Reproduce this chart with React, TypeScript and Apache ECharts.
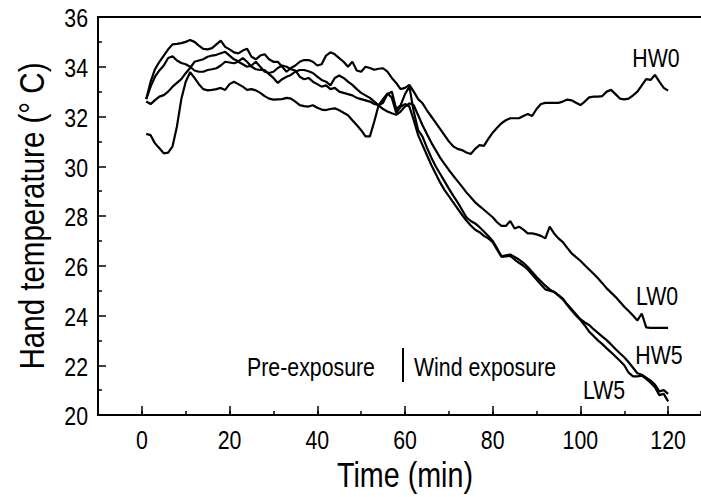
import React, { useEffect, useRef } from "react";
import * as echarts from "echarts";

const minutes = [
  1, 2, 3, 4, 5, 6, 7, 8, 9, 10, 11, 12, 13, 14, 15, 16, 17, 18, 19, 20,
  21, 22, 23, 24, 25, 26, 27, 28, 29, 30, 31, 32, 33, 34, 35, 36, 37, 38, 39, 40,
  41, 42, 43, 44, 45, 46, 47, 48, 49, 50, 51, 52, 53, 54, 55, 56, 57, 58, 59, 60,
  61, 62, 63, 64, 65, 66, 67, 68, 69, 70, 71, 72, 73, 74, 75, 76, 77, 78, 79, 80,
  81, 82, 83, 84, 85, 86, 87, 88, 89, 90, 91, 92, 93, 94, 95, 96, 97, 98, 99, 100,
  101, 102, 103, 104, 105, 106, 107, 108, 109, 110, 111, 112, 113, 114, 115, 116, 117, 118, 119, 120,
];

const hw0 = [
  32.7, 33.4, 33.9, 34.2, 34.45, 34.7, 34.9, 34.92, 34.95, 35.0, 35.08, 35.0, 34.85, 34.72, 34.7, 34.75, 34.9, 35.05, 34.8, 34.7,
  34.58, 34.54, 34.65, 34.72, 34.4, 34.3, 34.45, 34.5, 34.3, 34.2, 34.2, 34.0, 33.8, 33.95, 34.05, 34.2, 34.27, 34.27, 34.2, 34.05,
  34.1, 34.45, 34.58, 34.5, 34.35, 34.2, 34.0, 34.2, 33.85, 33.8, 34.0, 33.95, 33.88, 33.92, 33.94, 33.8, 33.55, 33.35, 33.1, 33.15,
  33.27, 33.0, 32.7, 32.53, 32.25, 32.0, 31.75, 31.5, 31.25, 31.0, 30.8, 30.7, 30.65, 30.55, 30.49, 30.7, 30.85, 30.82, 31.1, 31.35,
  31.55, 31.73, 31.85, 31.93, 31.93, 31.93, 32.02, 32.1, 32.02, 32.3, 32.5, 32.55, 32.55, 32.55, 32.55, 32.6, 32.68, 32.65, 32.55, 32.46,
  32.6, 32.77, 32.8, 32.8, 32.82, 33.0, 33.07, 32.9, 32.72, 32.69, 32.72, 32.85, 33.0, 33.25, 33.5, 33.47, 33.67, 33.4, 33.15, 33.04,
];

const lw0 = [
  32.6, 32.5, 32.66, 32.8, 32.86, 33.0, 33.2, 33.35, 33.5, 33.74, 33.95, 34.2, 34.25, 34.3, 34.4, 34.45, 34.48, 34.54, 34.6, 34.45,
  34.3, 34.22, 34.35, 34.2, 34.0, 33.9, 33.87, 33.87, 33.7, 33.55, 33.35, 33.5, 33.6, 33.67, 33.8, 33.87, 33.87, 33.82, 33.75, 33.6,
  33.47, 33.4, 33.25, 33.55, 33.65, 33.55, 33.4, 33.27, 33.1, 32.95, 32.85, 32.75, 32.6, 32.45, 32.3, 32.2, 32.13, 32.07, 32.2, 32.4,
  32.53, 32.45, 32.05, 31.65, 31.3, 30.95, 30.65, 30.35, 30.1, 29.85, 29.62, 29.4, 29.18, 28.95, 28.75, 28.55, 28.4, 28.25, 28.1, 27.95,
  27.75, 27.6, 27.6, 27.8, 27.5, 27.57, 27.45, 27.3, 27.3, 27.26, 27.2, 27.1, 27.57, 27.3, 27.1, 26.95, 26.72, 26.5, 26.35, 26.2,
  26.02, 25.85, 25.68, 25.5, 25.3, 25.09, 24.92, 24.75, 24.55, 24.35, 24.18, 24.0, 23.8, 24.08, 23.52, 23.5, 23.5, 23.5, 23.5, 23.5,
];

const hw5 = [
  32.7, 33.2, 33.6, 33.85, 34.05, 34.35, 34.42, 34.25, 34.15, 34.1, 34.0, 33.85, 33.8, 33.8, 33.87, 33.9, 33.94, 34.05, 34.2, 34.17,
  34.14, 34.2, 34.1, 34.0, 34.05, 34.2, 34.0, 33.8, 33.75, 33.8, 33.95, 34.05, 34.0, 33.9, 33.85, 33.6, 33.5, 33.55, 33.4, 33.3,
  33.2, 33.25, 33.1, 33.15, 33.0, 32.95, 32.9, 32.85, 32.75, 32.7, 32.65, 32.6, 32.5, 32.45, 32.55, 32.9, 33.0, 32.3, 32.45, 32.9,
  33.2, 32.2, 31.45, 31.19, 30.75, 30.35, 30.0, 29.7, 29.4, 29.1, 28.82, 28.55, 28.25, 27.95, 27.8, 27.7, 27.55, 27.38, 27.2, 27.0,
  26.7, 26.38, 26.42, 26.45, 26.35, 26.25, 26.12, 25.95, 25.75, 25.55, 25.38, 25.2, 25.05, 24.95, 24.82, 24.68, 24.45, 24.25, 24.05, 23.85,
  23.72, 23.62, 23.45, 23.3, 23.15, 23.01, 22.83, 22.65, 22.48, 22.32, 22.12, 21.9, 21.68, 21.62, 21.5, 21.38, 21.22, 20.95, 21.0, 20.85,
];

const lw5 = [
  31.3, 31.25, 30.92, 30.72, 30.52, 30.55, 30.8, 31.6, 32.7, 33.4, 33.78, 33.55, 33.3, 33.1, 33.05, 33.07, 33.1, 33.15, 33.07, 33.3,
  33.4, 33.3, 33.2, 33.07, 33.1, 33.05, 32.95, 32.82, 32.72, 32.68, 32.69, 32.7, 32.75, 32.72, 32.6, 32.46, 32.42, 32.4, 32.45, 32.35,
  32.28, 32.26, 32.3, 32.33, 32.25, 32.15, 32.05, 31.85, 31.66, 31.45, 31.2, 31.2, 31.8, 32.46, 32.7, 32.93, 32.75, 32.15, 32.39, 32.5,
  32.4, 31.85, 31.25, 30.85, 30.45, 30.05, 29.7, 29.35, 29.05, 28.8, 28.55, 28.3, 28.05, 27.82, 27.62, 27.45, 27.35, 27.2, 27.1, 26.95,
  26.65, 26.36, 26.38, 26.4, 26.25, 26.12, 26.0, 25.85, 25.65, 25.45, 25.25, 25.05, 25.0, 24.95, 24.8, 24.65, 24.42, 24.2, 24.0, 23.82,
  23.6, 23.35, 23.18, 23.0, 22.85, 22.68, 22.52, 22.35, 22.18, 22.0, 21.7, 21.55, 21.55, 21.58, 21.45, 21.3, 21.12, 20.8, 20.85, 20.55,
];

const seriesNames = ["HW0", "LW0", "HW5", "LW5"];
const seriesValues = [hw0, lw0, hw5, lw5];

const xTickLabels = [0, 20, 40, 60, 80, 100, 120];
const yTickLabels = [20, 22, 24, 26, 28, 30, 32, 34, 36];

const yTitle = "Hand temperature (° C)";
const xTitle = "Time (min)";
const phaseLabels = ["Pre-exposure", "Wind exposure"];

const FONT = '"Liberation Sans", Arial, sans-serif';
const NARROW = 0.82;

function txt(text: string, x: number, y: number, size: number, align: string, extra: any = {}) {
  return {
    type: "text",
    x,
    y,
    scaleX: NARROW,
    ...extra,
    style: {
      text,
      fontSize: size,
      fontFamily: FONT,
      fill: "#000",
      textAlign: align,
      textVerticalAlign: "middle",
    },
  };
}

export default function App() {
  const ref = useRef<HTMLDivElement>(null);

  useEffect(() => {
    if (!ref.current) return;
    const chart = echarts.init(ref.current, null, { renderer: "svg" });

    const lineSeries = seriesValues.map((vals, i) => ({
      name: seriesNames[i],
      type: "line",
      xAxisIndex: 0,
      yAxisIndex: 0,
      data: minutes.map((m, j) => [m, vals[j]]),
      showSymbol: false,
      symbol: "none",
      lineStyle: { color: "#000", width: 2.2 },
      itemStyle: { color: "#000" },
      z: 3,
    }));

    const option: any = {
      animation: false,
      backgroundColor: "#fff",
      grid: [
        { left: 98, top: 17, width: 603, height: 398, containLabel: false },
        { left: 141.9, top: 17, width: 526.2, height: 398, containLabel: false },
      ],
      xAxis: [
        {
          type: "value",
          gridIndex: 0,
          min: -10,
          max: 127.5,
          interval: 10,
          position: "bottom",
          axisLine: { show: true, onZero: false, lineStyle: { color: "#000", width: 2 } },
          axisTick: { show: true, inside: true, length: 4, lineStyle: { color: "#000", width: 1.5 } },
          axisLabel: { show: false },
          splitLine: { show: false },
        },
        {
          type: "value",
          gridIndex: 1,
          min: 0,
          max: 120,
          interval: 20,
          position: "bottom",
          axisLine: { show: false, onZero: false },
          axisTick: { show: true, inside: true, length: 9, lineStyle: { color: "#000", width: 1.5 } },
          axisLabel: { show: false },
          splitLine: { show: false },
        },
        {
          type: "value",
          gridIndex: 0,
          min: -10,
          max: 127.5,
          position: "top",
          axisLine: { show: true, onZero: false, lineStyle: { color: "#000", width: 2 } },
          axisTick: { show: false },
          axisLabel: { show: false },
          splitLine: { show: false },
        },
      ],
      yAxis: [
        {
          type: "value",
          gridIndex: 0,
          min: 20,
          max: 36,
          interval: 2,
          position: "left",
          axisLine: { show: true, onZero: false, lineStyle: { color: "#000", width: 2 } },
          axisTick: { show: true, inside: true, length: 8, lineStyle: { color: "#000", width: 1.5 } },
          minorTick: { show: true, splitNumber: 2, length: 4, lineStyle: { color: "#000", width: 1.5 } },
          axisLabel: { show: false },
          splitLine: { show: false },
          minorSplitLine: { show: false },
        },
        {
          type: "value",
          gridIndex: 1,
          min: 0,
          max: 1,
          show: false,
        },
      ],
      series: lineSeries,
    };

    chart.setOption(option);

    const graphics: any[] = [];
    yTickLabels.forEach((v) => {
      const py = chart.convertToPixel({ yAxisIndex: 0 }, v) as number;
      graphics.push(txt(String(v), 88, py + 1, 26, "right"));
    });
    xTickLabels.forEach((v) => {
      const px = chart.convertToPixel({ xAxisIndex: 0 }, v) as number;
      graphics.push(txt(String(v), px, 440, 26, "center"));
    });
    graphics.push(txt(yTitle, 31, 216, 36, "center", { rotation: Math.PI / 2 }));
    graphics.push(txt(xTitle, 405, 475, 35, "center"));
    graphics.push(txt(phaseLabels[0], 311, 367, 26, "center"));
    graphics.push(txt(phaseLabels[1], 485, 367, 26, "center"));
    graphics.push({
      type: "line",
      shape: { x1: 403, y1: 348, x2: 403, y2: 382 },
      style: { stroke: "#000", lineWidth: 2 },
    });
    graphics.push(txt(seriesNames[0], 656, 58, 26, "center"));
    graphics.push(txt(seriesNames[1], 657, 296, 26, "center"));
    graphics.push(txt(seriesNames[2], 659, 355, 26, "center"));
    graphics.push(txt(seriesNames[3], 604, 390, 26, "center"));

    chart.setOption({ graphic: graphics });

    return () => {
      chart.dispose();
    };
  }, []);

  return (
    <div
      ref={ref}
      style={{ position: "fixed", left: 0, top: 0, width: 701, height: 497, background: "#fff" }}
    />
  );
}
